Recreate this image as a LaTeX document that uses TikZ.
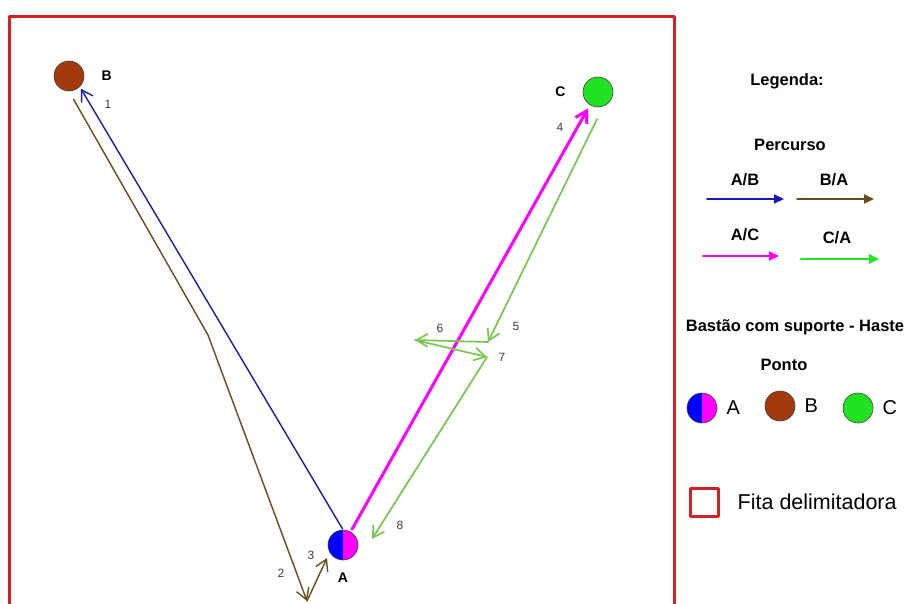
\documentclass[tikz,border=0pt]{standalone}
\usepackage{fontspec}
\setmainfont{Liberation Sans}
\usepackage{xcolor}
\usetikzlibrary{arrows.meta,positioning}

\definecolor{linblue}{HTML}{1A1AB8}
\definecolor{linbrown}{HTML}{6B4A1E}
\definecolor{linmag}{HTML}{FF00FF}
\definecolor{lingreen}{HTML}{78C84C}
\definecolor{legreen}{HTML}{22E822}
\definecolor{ptblue}{HTML}{0000FF}
\definecolor{ptbrown}{HTML}{A23A0E}
\definecolor{ptgreen}{HTML}{22E022}
\definecolor{fitared}{HTML}{D42026}

\begin{document}
\begin{tikzpicture}[
  x=1pt, y=-1pt,
  line cap=round,
  line join=round,
  ponto/.style={circle, draw=black!75, line width=0.6pt, minimum size=30pt, inner sep=0pt},
  pontoA/.style={ponto, path picture={
      \fill[ptblue] (path picture bounding box.south west) rectangle (path picture bounding box.north);
      \fill[linmag] (path picture bounding box.south) rectangle (path picture bounding box.north east);}},
  rotulo/.style={font=\bfseries\fontsize{14}{16}\selectfont, inner sep=0pt},
  titulo/.style={font=\bfseries\fontsize{16.5}{18}\selectfont, inner sep=0pt},
  letra/.style={font=\fontsize{20}{22}\selectfont, inner sep=0pt},
  passo/.style={font=\fontsize{12}{13}\selectfont, text=black!75, inner sep=0pt},
  barb/.style={-{Straight Barb[length=11pt,width=13pt]}},
  ab/.style={draw=linblue, line width=1.4pt, barb},
  ba/.style={draw=linbrown, line width=1.4pt, barb},
  ac/.style={draw=linmag, line width=3pt, -{Straight Barb[length=11pt,width=13pt]}},
  ca/.style={draw=lingreen, line width=1.7pt, barb},
  legseta/.style={line width=2pt, -{Triangle[length=10pt,width=9pt]}},
  fita/.style={draw=fitared, line width=3pt}
]
\useasboundingbox (0,0) rectangle (909,603);

% area delimitada pela fita
\draw[fita] (9,16) rectangle (674,640);

% pontos (bastoes)
\node[ponto, fill=ptbrown] (B) at (69,76) {};
\node[ponto, fill=ptgreen] (C) at (598,92) {};
\node[pontoA] (A) at (343,545) {};
\node[rotulo, right=17pt of B] (labB) {B};
\node[rotulo, left=17pt of C] (labC) {C};
\node[rotulo, below=12pt of A] (labA) {A};

% percurso A/B e B/A
\coordinate (dobra) at (208,335);
\coordinate (fundo) at (307,601);
\coordinate (volta) at (327,558);
\draw[ab, shorten <=1pt, shorten >=2pt] (A.north) -- (B.south east);
\draw[ba, shorten <=9pt] (B.south) -- (dobra) -- (fundo);
\draw[ba] (fundo) -- (volta);

% percurso A/C e C/A
\coordinate (v5) at (488,342);
\coordinate (v6) at (415,340);
\coordinate (v7) at (487,357);
\coordinate (v8) at (372,539);
\draw[ac, shorten <=3pt, shorten >=4pt] (A.60) -- (C.-122);
\draw[ca, shorten <=14pt] (C.-70) -- (v5);
\draw[ca] (v5) -- (v6);
\draw[ca] (v6) -- (v7);
\draw[ca] (v7) -- (v8);

% numeracao dos trechos
\node[passo] (n1) at (108,104) {1};
\node[passo] (n2) at (281,573) {2};
\node[passo] (n3) at (311,555) {3};
\node[passo] (n4) at (560,127) {4};
\node[passo] (n5) at (516,326) {5};
\node[passo] (n6) at (440,328) {6};
\node[passo] (n7) at (502,357) {7};
\node[passo] (n8) at (400,525) {8};

% legenda
\node[titulo] (leg) at (787,81) {Legenda:};
\node[titulo] (perc) at (790,145) {Percurso};
\node[titulo] (tAB) at (745,180) {A/B};
\node[titulo] (tBA) at (834,180) {B/A};
\node[titulo] (tAC) at (745,235) {A/C};
\node[titulo] (tCA) at (837,238) {C/A};
\draw[legseta, linblue] (707,199) -- (784,199);
\draw[legseta, linbrown] (797,199) -- (874,199);
\draw[legseta, linmag] (703,256) -- (779,256);
\draw[legseta, legreen, line width=2.6pt] (801,259) -- (879,259);

\node[titulo] (haste) at (795,327) {Bastão com suporte - Haste};
\node[titulo] (ponto) at (784,365) {Ponto};
\node[pontoA] (legA) at (702,408) {};
\node[ponto, fill=ptbrown] (legB) at (780,406) {};
\node[ponto, fill=ptgreen] (legC) at (858,408) {};
\node[letra, right=9pt of legA] {A};
\node[letra, right=9pt of legB] {B};
\node[letra, right=9pt of legC] {C};

\node[fita, minimum size=28pt, inner sep=0pt] (legF) at (704,502) {};
\node[letra, font=\fontsize{21.5}{23}\selectfont, right=18pt of legF] {Fita delimitadora};
\end{tikzpicture}
\end{document}
